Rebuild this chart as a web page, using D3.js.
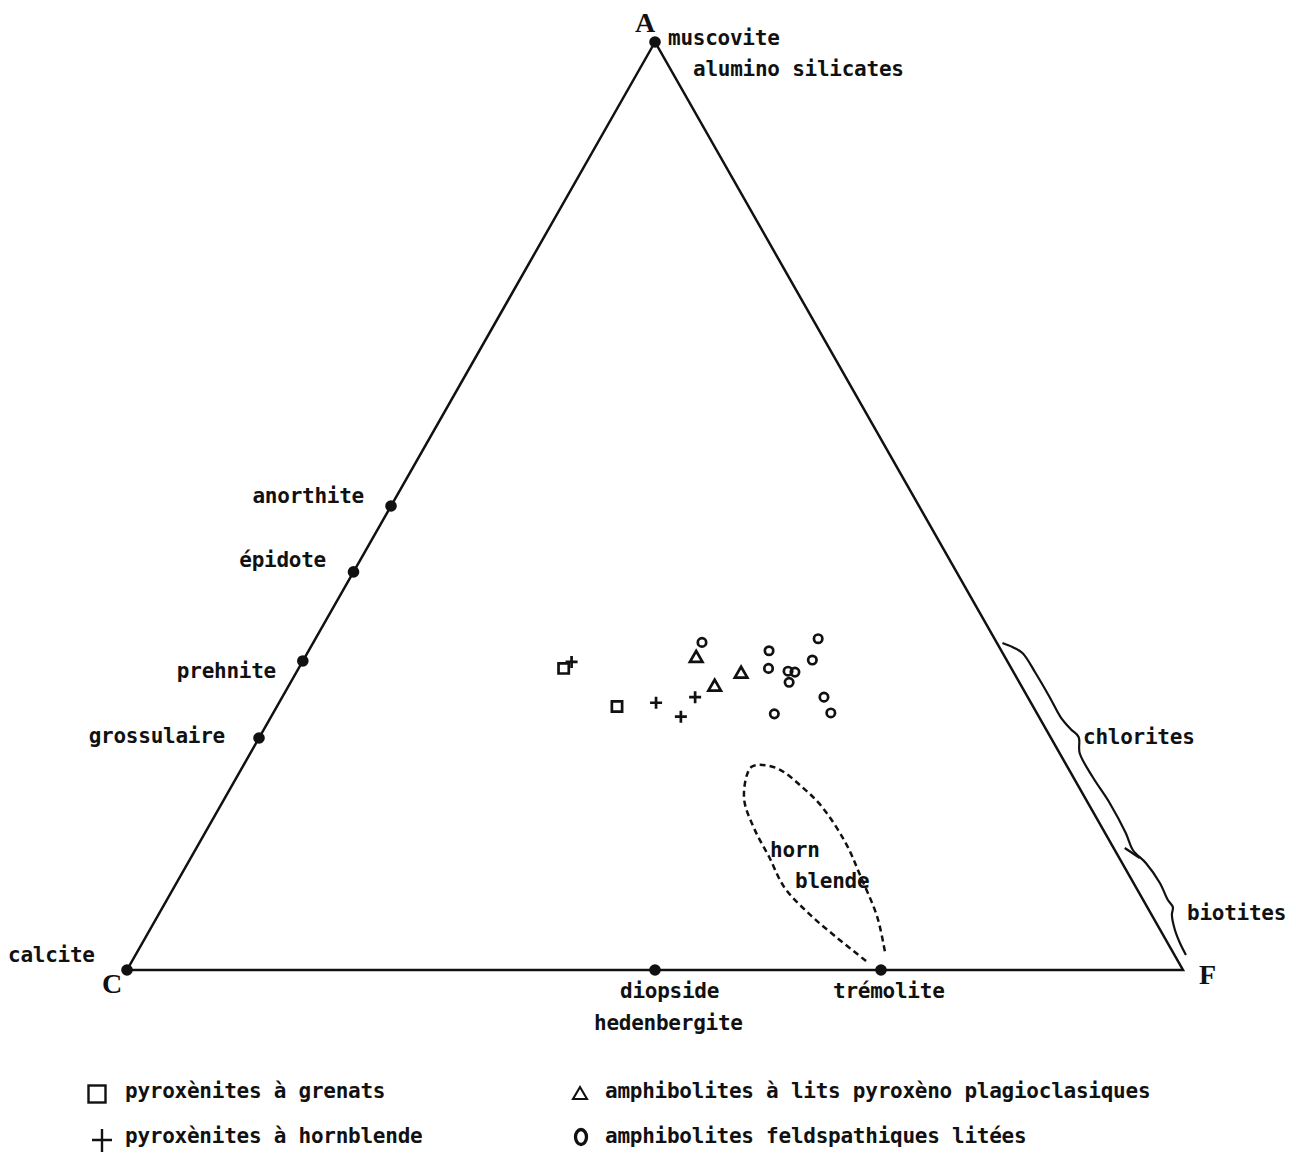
<!DOCTYPE html>
<html>
<head>
<meta charset="utf-8">
<script src="https://cdn.jsdelivr.net/npm/d3@7"></script>
<style>
  html, body { margin: 0; padding: 0; background: #fff; }
  svg text { font-family: "DejaVu Sans Mono", "Liberation Mono", monospace; font-weight: bold; fill: #111; }
  svg text.vertex { font-family: "Liberation Serif", "DejaVu Serif", serif; font-weight: bold; }
</style>
</head>
<body>
<script>
// ---- Data (ternary coordinates: [A, C, F] in %) ----
const vertexNames = ["A", "C", "F"];
const vertexPoints = [[100, 0, 0], [0, 100, 0], [0, 0, 100]];

const mineralNames = ["muscovite", "calcite", "anorthite", "épidote", "prehnite", "grossulaire", "diopside", "trémolite"];
const mineralPoints = [[100, 0, 0], [0, 100, 0], [50, 50, 0], [42.9, 57.1, 0], [33.3, 66.7, 0], [25, 75, 0], [0, 50, 50], [0, 28.6, 71.4]];

const seriesNames = ["pyroxènites à grenats", "pyroxènites à hornblende", "amphibolites à lits pyroxèno plagioclasiques", "amphibolites feldspathiques litées"];
const pyroxGrenats = [[32.5, 42.4, 25.1], [28.4, 39.4, 32.2]];
const pyroxHornblende = [[33.2, 41.3, 25.5], [28.8, 35.5, 35.7], [27.3, 33.9, 38.8], [29.4, 31.5, 39.1]];
const amphiLits = [[33.6, 29.3, 37.1], [30.5, 29.1, 40.4], [31.9, 25.9, 42.2]];
const amphiFeld = [[35.3, 27.9, 36.8], [34.4, 22.0, 43.6], [32.5, 23.0, 44.5], [32.2, 21.3, 46.5], [32.1, 20.7, 47.2], [31.0, 21.8, 47.2], [35.7, 16.7, 47.6], [33.4, 18.4, 48.2], [29.4, 19.3, 51.3], [27.7, 19.5, 52.8], [27.6, 24.9, 47.5]];

// hornblende field outline (ternary [A, F])
const hornblendeField = [[0.97, 69.5], [3.6, 65.3], [6.1, 61.5], [8.9, 57.8], [12.2, 54.7], [15.1, 51.9], [18.3, 49.3], [21.0, 48.2], [21.9, 48.2], [22.1, 49.1], [21.6, 51.0], [19.7, 54.1], [17.6, 57.0], [13.7, 61.2], [10.0, 64.5], [5.7, 68.2], [1.8, 70.9]];

// chlorites / biotites range along the A-F edge: [A %, offset]
const braceRange = [[35.24, 5.5], [34.81, 13.2], [34.16, 19.8], [32.0, 21.5], [29.42, 21.9], [27.26, 21.5], [25.97, 24.7], [25.11, 28.2], [23.38, 20.1], [20.8, 19.5], [18.0, 21.7], [14.76, 20.7], [12.93, 18.1], [11.53, 23.7], [9.38, 26.4], [7.54, 24.7], [6.79, 25.7], [5.93, 20.2], [4.31, 14.7], [2.91, 12.3], [1.62, 11.5]];
const braceTick = [[13.15, 11.2], [12.07, 20.5]];
const braceLabels = ["chlorites", "biotites"];

// ---- Drawing ----
const W = 1296, H = 1153;
const svg = d3.select("body").append("svg").attr("width", W).attr("height", H)
  .style("display", "block").style("background", "#fff");

const xScale = d3.scaleLinear().domain([0, 1]).range([127, 1183]);
const yScale = d3.scaleLinear().domain([0, 1]).range([970, 42]);

function proj(p) { // p = [A, C, F]
  const s = p[0] + p[1] + p[2];
  const a = p[0] / s, f = p[2] / s;
  return [xScale(f + a / 2), yScale(a)];
}
function projAF(a, f) { return proj([a, 100 - a - f, f]); }

const ink = "#111";

// triangle
const tri = vertexPoints.map(proj);
svg.append("path")
  .attr("d", d3.line()([tri[0], tri[1], tri[2]]) + "Z")
  .attr("fill", "none").attr("stroke", ink).attr("stroke-width", 2.5).attr("stroke-linejoin", "miter");

// mineral dots
svg.selectAll("circle.min").data(mineralPoints).join("circle")
  .attr("class", "min")
  .attr("cx", d => proj(d)[0]).attr("cy", d => proj(d)[1])
  .attr("r", 5.8).attr("fill", ink);

// hornblende field (dashed)
svg.append("path")
  .attr("d", d3.line().curve(d3.curveCatmullRom.alpha(0.5))(hornblendeField.map(d => projAF(d[0], d[1]))))
  .attr("fill", "none").attr("stroke", ink).attr("stroke-width", 2.5)
  .attr("stroke-dasharray", "6,4");

// brace
function bracePt(d) {
  const p = projAF(d[0], 100 - d[0]);
  return [p[0] + d[1], p[1]];
}
svg.append("path")
  .attr("d", d3.line().curve(d3.curveCatmullRom.alpha(0.5))(braceRange.map(bracePt)))
  .attr("fill", "none").attr("stroke", ink).attr("stroke-width", 2.2);
svg.append("path")
  .attr("d", d3.line()(braceTick.map(bracePt)))
  .attr("fill", "none").attr("stroke", ink).attr("stroke-width", 2.2);

// vertex labels
const vLab = [{t: "A", x: 635, y: 32}, {t: "C", x: 102, y: 993}, {t: "F", x: 1199, y: 984}];
svg.selectAll("text.vertex").data(vLab).join("text")
  .attr("class", "vertex").attr("x", d => d.x).attr("y", d => d.y)
  .attr("font-size", 28).text(d => d.t);

// mineral labels
const fs = 21, ls = -0.25;
function label(t, x, y, anchor) {
  svg.append("text").attr("x", x).attr("y", y).attr("text-anchor", anchor || "start")
    .attr("font-size", fs).attr("letter-spacing", ls).text(t);
}
label(mineralNames[0], 668, 45);
label("alumino silicates", 693, 76);
label(mineralNames[2], 364, 503, "end");
label(mineralNames[3], 326, 567, "end");
label(mineralNames[4], 276, 678, "end");
label(mineralNames[5], 225, 743, "end");
label(mineralNames[1], 8, 962);
label(mineralNames[6], 620, 998);
label("hedenbergite", 594, 1030);
label(mineralNames[7], 833, 998);
label("horn", 770, 857);
label("blende", 795, 888);
label(braceLabels[0], 1083, 744);
label(braceLabels[1], 1187, 920);

// data markers
const g = svg.append("g").attr("fill", "none").attr("stroke", ink).attr("stroke-width", 2.7);
g.selectAll("path.sq").data(pyroxGrenats).join("path").attr("class", "sq")
  .attr("transform", d => `translate(${proj(d)})`)
  .attr("d", d3.symbol(d3.symbolSquare, 105));
g.selectAll("path.pl").data(pyroxHornblende).join("path").attr("class", "pl")
  .attr("transform", d => `translate(${proj(d)})`)
  .attr("d", "M-6,0H6M0,-6V6");
g.selectAll("path.tr").data(amphiLits).join("path").attr("class", "tr")
  .attr("transform", d => `translate(${proj(d)})`)
  .attr("d", d3.symbol(d3.symbolTriangle, 68));
g.selectAll("circle.ci").data(amphiFeld).join("circle").attr("class", "ci")
  .attr("cx", d => proj(d)[0]).attr("cy", d => proj(d)[1]).attr("r", 4.2);

// legend
const lg = svg.append("g");
const legItems = [
  {x: 97, y: 1094, tx: 125, ty: 1098},
  {x: 102, y: 1140, tx: 125, ty: 1143},
  {x: 580, y: 1093, tx: 605, ty: 1098},
  {x: 581, y: 1137, tx: 605, ty: 1143}
];
lg.append("rect").attr("x", legItems[0].x - 8.5).attr("y", legItems[0].y - 8.5).attr("width", 17).attr("height", 17)
  .attr("fill", "none").attr("stroke", ink).attr("stroke-width", 2.4);
lg.append("path").attr("transform", `translate(${legItems[1].x},${legItems[1].y})`)
  .attr("d", "M-10,0H10M0,-11V12").attr("stroke", ink).attr("stroke-width", 2.4);
lg.append("path").attr("transform", `translate(${legItems[2].x},${legItems[2].y})`)
  .attr("d", "M-7,6L7,6L0,-6Z").attr("fill", "none").attr("stroke", ink).attr("stroke-width", 2.1);
lg.append("ellipse").attr("cx", legItems[3].x).attr("cy", legItems[3].y).attr("rx", 5.5).attr("ry", 7.5)
  .attr("fill", "none").attr("stroke", ink).attr("stroke-width", 3.3);
seriesNames.forEach((n, i) => {
  lg.append("text").attr("x", legItems[i].tx).attr("y", legItems[i].ty)
    .attr("font-size", fs).attr("letter-spacing", ls).text(n);
});
</script>
</body>
</html>
